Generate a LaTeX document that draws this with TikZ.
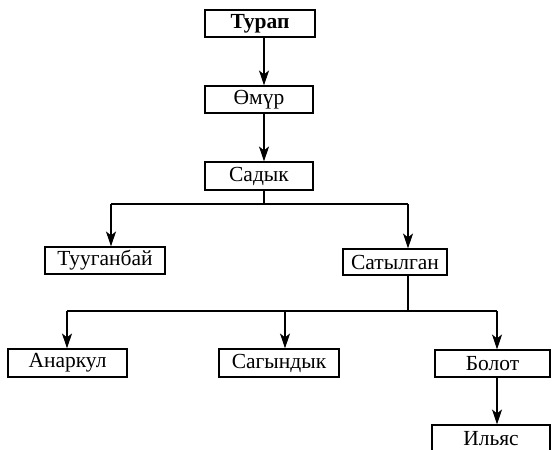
\documentclass[tikz,border=0pt]{standalone}
\usepackage{fontspec}
\setmainfont{Liberation Serif}
\usetikzlibrary{arrows.meta}

\begin{document}
\begin{tikzpicture}
        [
            x = 1pt, y = -1pt,
            every node/.append style = {draw, line width = 1.1pt, inner sep = 0pt, minimum height = 27pt,
                font = \fontsize{21.5}{24}\selectfont},
            person/.style = {minimum width = #1},
            link/.style = {line width = 1.1pt},
            down/.style = {link, -{Stealth[length = 15pt, width = 10pt, inset = 4pt]}}]
        \useasboundingbox (0,0) rectangle (553,449);

        % generations
        \node[person = 110pt, font = \fontsize{21.5}{24}\selectfont\bfseries] (turap) at (260,23.5) {Турап};
        \node[person = 108pt] (omur) at (259,99.5) {Өмүр};
        \node[person = 108pt, minimum height = 28pt] (sadyk) at (259,176) {Садык};
        \node[person = 120pt] (tuugan) at (105,260.5) {Тууганбай};
        \node[person = 104pt, minimum height = 26pt] (satyl) at (395,262) {Сатылган};
        \node[person = 119pt, minimum height = 28pt] (anarkul) at (67.5,363) {Анаркул};
        \node[person = 120pt, minimum height = 28pt] (sagyn) at (279,363) {Сагындык};
        \node[person = 115pt] (bolot) at (492.5,363.5) {Болот};
        \node[person = 118pt] (ilyas) at (491,438.5) {Ильяс};

        % branch points
        \coordinate (axis) at (264,0);
        \coordinate (j1) at (264,204);
        \coordinate (t1) at (111,204);
        \coordinate (t2) at (408,204);
        \coordinate (t3) at (67,311);
        \coordinate (t4) at (285,311);
        \coordinate (t5) at (497,311);

        \draw[down] (turap.south -| axis) -- (omur.north -| axis);
        \draw[down] (omur.south -| axis) -- (sadyk.north -| axis);
        \draw[link] (sadyk.south -| j1) -- (j1);
        \draw[link] (t1) -- (t2);
        \draw[down] (t1) -- (t1 |- tuugan.north);
        \draw[down] (t2) -- (t2 |- satyl.north);
        \draw[link] (satyl.south -| t2) -- (t2 |- t3);
        \draw[link] (t3) -- (t5);
        \draw[down] (t3) -- (t3 |- anarkul.north);
        \draw[down] (t4) -- (t4 |- sagyn.north);
        \draw[down] (t5) -- (t5 |- bolot.north);
        \draw[down] (bolot.south -| t5) -- (t5 |- ilyas.north);
    \end{tikzpicture}
\end{document}
